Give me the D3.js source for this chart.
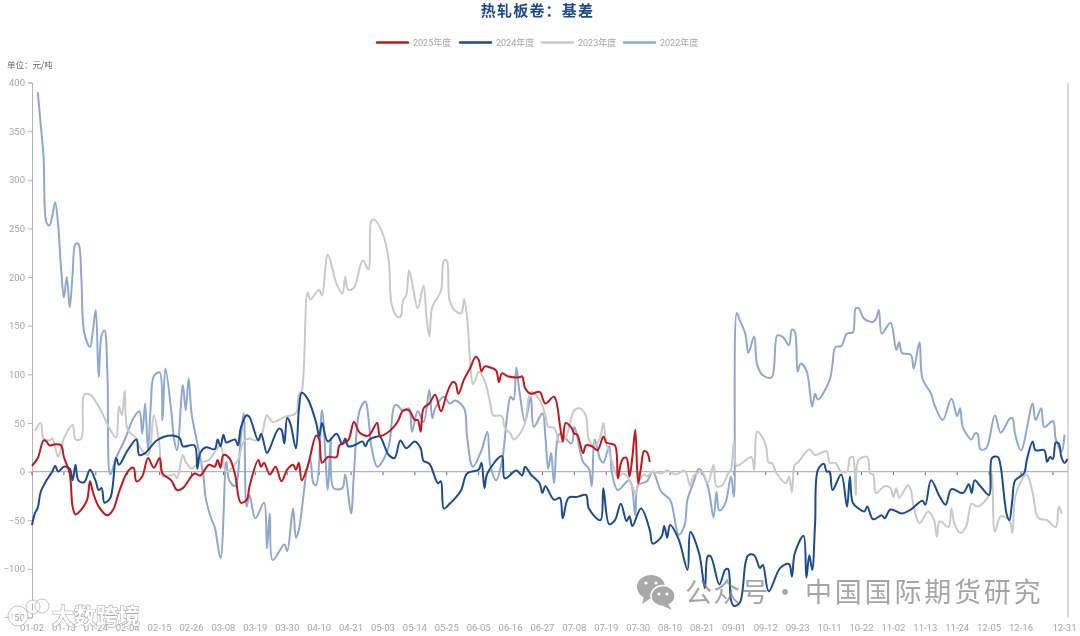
<!DOCTYPE html>
<html><head><meta charset="utf-8">
<script src="https://cdnjs.cloudflare.com/ajax/libs/d3/7.8.5/d3.min.js"></script>
<style>html,body{margin:0;padding:0;background:#fff;overflow:hidden}svg{display:block;filter:blur(0.4px)}</style>
</head><body><svg id="c" width="1080" height="636"></svg>
<script>
const title = "热轧板卷：基差";
const unitLabel = "单位：元/吨";
const yTicks = [400,350,300,250,200,150,100,50,0,-50,-100,-150];
const xTickLabels = ["01-02","01-13","01-24","02-04","02-15","02-26","03-08","03-19","03-30","04-10","04-21","05-03","05-14","05-25","06-05","06-16","06-27","07-08","07-19","07-30","08-10","08-21","09-01","09-12","09-23","10-11","10-22","11-02","11-13","11-24","12-05","12-16","12-31"];
const xTickIndex = [0,11,22,33,44,55,66,77,88,99,110,121,132,143,154,165,176,187,198,209,220,231,242,253,264,275,286,297,308,319,330,341,356];
const seriesNames = ["2025年度","2024年度","2023年度","2022年度"];
// [category index, value]
const s2025 = [[0,6],[2,14],[4,32],[5,31],[6,27],[8,28],[10,27],[11,15],[13,-2],[14,-36],[15,-44],[17,-39],[19,-29],[20,-10],[21,-21],[23,-36],[26,-45],[28,-39],[30,-21],[33,0],[35,4],[36,-10],[38,-5],[40,14],[42,4],[44,14],[45,-2],[48,-9],[50,-19],[52,-17],[56,-2],[58,-4],[61,7],[63,5],[64,12],[65,4],[66,17],[68,14],[70,-3],[72,-32],[74,-29],[75,-15],[78,12],[79,5],[80,9],[82,-3],[84,5],[86,-10],[88,2],[90,7],[91,2],[92,9],[93,-9],[95,5],[98,37],[99,33],[100,9],[102,15],[105,15],[106,27],[109,32],[111,51],[113,40],[116,37],[119,50],[120,37],[123,41],[126,51],[128,63],[130,63],[132,53],[133,53],[134,41],[135,65],[137,70],[139,79],[141,62],[143,80],[145,92],[146,91],[147,80],[149,95],[151,106],[153,118],[154,115],[155,103],[156,108],[158,107],[160,104],[161,92],[162,101],[164,98],[168,97],[169,98],[170,86],[172,80],[175,82],[177,70],[180,77],[182,48],[183,31],[184,50],[186,45],[187,39],[188,38],[190,19],[191,27],[193,26],[195,22],[197,36],[198,30],[199,29],[201,27],[202,-7],[203,8],[204,14],[205,14],[206,-5],[207,15],[208,43],[209,-12],[210,5],[211,21],[212,20],[213,10]];
const s2024 = [[0,-55],[1,-43],[2,-37],[3,-21],[5,-9],[7,0],[8,6],[9,0],[11,5],[13,3],[14,-9],[15,7],[16,-9],[18,-11],[20,2],[22,-10],[23,-19],[24,-17],[25,-32],[27,-27],[29,14],[30,7],[33,22],[36,33],[37,17],[39,19],[43,32],[48,37],[51,34],[52,26],[56,27],[57,3],[58,19],[60,25],[63,23],[64,33],[65,26],[66,38],[67,30],[70,33],[71,27],[72,45],[74,58],[75,56],[78,32],[79,39],[81,19],[82,24],[85,44],[86,43],[87,29],[88,55],[89,50],[91,24],[92,63],[93,81],[95,75],[98,50],[99,36],[100,50],[102,31],[105,39],[107,28],[108,34],[109,26],[111,27],[113,30],[114,31],[115,26],[116,32],[119,36],[120,36],[123,17],[125,14],[127,32],[129,24],[132,31],[134,24],[135,11],[137,8],[140,-12],[141,-10],[142,-38],[144,-33],[146,-27],[148,-19],[150,-2],[154,2],[155,9],[156,-17],[157,-2],[162,16],[163,-7],[167,1],[169,-4],[170,5],[172,-3],[175,-12],[176,-22],[177,-15],[180,-29],[182,-27],[183,-48],[185,-27],[188,-26],[191,-24],[192,-38],[196,-50],[197,-17],[199,-54],[201,-50],[203,-33],[205,-51],[206,-46],[207,-56],[210,-38],[213,-60],[214,-74],[217,-67],[218,-56],[219,-68],[220,-55],[223,-70],[226,-101],[227,-62],[230,-84],[232,-120],[233,-87],[234,-87],[237,-116],[239,-101],[240,-100],[241,-132],[242,-138],[244,-135],[246,-94],[247,-86],[249,-86],[251,-99],[252,-96],[254,-123],[258,-99],[261,-95],[262,-108],[263,-84],[266,-66],[267,-109],[268,-86],[269,-101],[270,-53],[271,2],[273,8],[274,0],[275,0],[276,-19],[279,-3],[281,-36],[282,-5],[283,-32],[285,-38],[287,-41],[288,-36],[290,-49],[293,-45],[294,-48],[296,-39],[300,-43],[303,-39],[307,-30],[308,-34],[310,-9],[313,-26],[315,-34],[317,-18],[321,-22],[323,-13],[324,-22],[325,-9],[327,-15],[330,-24],[331,14],[333,15],[334,5],[336,-43],[337,-50],[338,-29],[339,-9],[342,-2],[343,12],[345,31],[346,22],[349,22],[350,10],[351,15],[352,13],[353,30],[354,29],[355,14],[356,9],[357,13]];
const s2023 = [[1,42],[3,50],[4,34],[6,32],[7,34],[9,15],[10,24],[11,34],[14,48],[15,33],[17,34],[18,79],[20,79],[23,67],[27,43],[29,35],[30,67],[31,58],[32,83],[33,43],[36,34],[37,26],[40,17],[42,58],[44,26],[45,-5],[49,-3],[50,-7],[52,17],[53,10],[55,3],[57,8],[59,10],[61,12],[63,20],[65,27],[67,0],[71,12],[73,31],[75,34],[77,32],[79,36],[81,58],[83,51],[87,56],[91,60],[92,79],[93,83],[95,184],[96,177],[99,187],[100,181],[102,223],[105,193],[107,183],[108,200],[109,187],[111,189],[114,217],[116,208],[117,258],[118,259],[121,244],[123,217],[124,172],[126,159],[127,159],[128,176],[129,181],[130,207],[131,195],[133,168],[135,191],[136,159],[137,139],[138,169],[141,186],[142,217],[143,217],[144,176],[146,165],[148,163],[149,177],[150,159],[151,117],[152,90],[153,95],[154,103],[156,94],[158,70],[159,58],[162,57],[163,45],[165,39],[166,33],[168,38],[170,50],[172,82],[175,74],[177,58],[178,46],[180,45],[182,30],[184,35],[187,63],[189,65],[191,57],[192,33],[194,26],[196,36],[197,50],[198,29],[199,20],[200,10],[202,-5],[204,-2],[207,-15],[208,-24],[209,-12],[211,-3],[212,-5],[214,0],[217,-2],[219,1],[222,-3],[225,1],[227,-15],[228,-5],[231,0],[233,-12],[235,7],[236,-15],[238,-14],[240,-2],[241,2],[242,31],[243,6],[248,15],[249,2],[250,41],[251,39],[253,27],[254,9],[255,9],[257,-3],[260,-12],[261,-5],[262,-21],[263,7],[264,9],[268,23],[270,17],[274,21],[275,9],[277,9],[279,0],[281,0],[282,14],[283,15],[284,-24],[285,12],[288,15],[289,-2],[290,-3],[291,-22],[294,-15],[296,-17],[297,-26],[298,-17],[299,-27],[302,-14],[303,-19],[304,-36],[306,-53],[309,-41],[311,-50],[312,-67],[313,-51],[316,-57],[317,-38],[318,-53],[320,-63],[322,-57],[324,-33],[326,-36],[330,-24],[331,-2],[332,-62],[334,-46],[337,-50],[338,-63],[339,-26],[341,-10],[343,-3],[345,-22],[347,-48],[350,-50],[353,-57],[354,-36],[355,-43]];
const s2022 = [[2,390],[3,357],[4,323],[5,256],[6,253],[7,263],[8,277],[9,254],[10,210],[11,179],[12,200],[13,169],[14,203],[15,234],[16,234],[17,200],[18,143],[20,128],[21,145],[22,166],[23,97],[24,140],[25,145],[26,100],[27,-3],[29,14],[32,33],[35,55],[37,62],[38,39],[39,70],[40,22],[41,70],[42,98],[44,102],[45,53],[46,106],[48,63],[49,33],[50,22],[52,89],[53,63],[54,96],[55,60],[57,29],[59,-2],[60,-29],[62,-50],[63,-57],[65,-89],[67,10],[68,-9],[70,-15],[72,36],[73,60],[74,-36],[75,-24],[77,-48],[80,-32],[81,-79],[82,-43],[83,-91],[87,-75],[88,-82],[90,-38],[91,-68],[92,-60],[95,5],[96,12],[97,-12],[98,-14],[100,63],[102,-19],[103,34],[104,-17],[107,-17],[108,-3],[110,-43],[111,-2],[113,63],[115,72],[116,55],[117,26],[119,5],[120,7],[123,26],[125,68],[126,68],[128,62],[130,65],[131,41],[133,62],[135,51],[137,84],[138,55],[139,65],[142,77],[144,70],[146,73],[149,65],[150,36],[152,5],[155,22],[157,41],[158,7],[160,-9],[162,10],[164,62],[165,77],[166,74],[167,107],[168,84],[170,51],[172,77],[173,46],[176,60],[177,36],[178,3],[179,19],[180,-12],[182,39],[186,29],[187,46],[190,10],[192,3],[193,-15],[194,33],[196,12],[197,9],[199,26],[200,-2],[202,-19],[206,-9],[208,-45],[209,-14],[212,-10],[214,0],[217,-21],[220,-29],[223,-65],[225,-55],[226,-29],[228,-12],[230,3],[233,-15],[235,-47],[236,-21],[237,-40],[239,-33],[241,-5],[242,-26],[243,163],[244,156],[246,141],[247,122],[249,139],[250,110],[252,99],[255,97],[257,140],[259,138],[261,130],[262,146],[263,144],[264,103],[265,111],[267,104],[269,67],[270,80],[271,74],[275,94],[276,110],[277,128],[279,129],[281,142],[283,143],[284,168],[285,168],[287,157],[290,154],[291,157],[292,166],[293,142],[296,153],[298,125],[299,133],[300,122],[303,120],[304,106],[306,133],[307,96],[310,80],[311,70],[314,53],[317,75],[319,57],[320,65],[321,45],[324,33],[325,39],[326,39],[327,23],[329,24],[332,58],[334,40],[337,54],[338,55],[339,38],[341,22],[345,70],[346,53],[348,65],[349,46],[352,52],[353,33],[355,21],[356,38]];
const seriesData = [s2025,s2024,s2023,s2022];
const colors = ["#c4161f","#1b4b91","#c9c9c9","#8fa8cf"];
const axisGray = "#b4b4b4", textGray = "#a6a6a6";
const font = "Roboto, 'Liberation Sans', 'Noto Sans CJK SC', sans-serif";

const svg = d3.select("#c");
const x = d3.scaleLinear().domain([0,357.2]).range([32,1068]);
const y = d3.scaleLinear().domain([-150,400]).range([617.5,82.5]);

// title, unit
svg.append("text").attr("x",537.5).attr("y",16).attr("text-anchor","middle")
  .attr("font-family","'Noto Sans CJK SC',sans-serif").attr("font-weight",700).attr("font-size",15)
  .attr("letter-spacing",1.2).attr("fill","#1d4a8e").text(title);
svg.append("text").attr("x",7).attr("y",68).attr("font-family","'Noto Sans CJK SC',sans-serif")
  .attr("font-size",8.5).attr("fill","#666").text(unitLabel);

// legend
const legendX = d3.scaleOrdinal().domain(seriesNames).range([377,460,542,624]);
const lg = svg.append("g").selectAll("g").data(seriesNames).join("g")
  .attr("transform",d=>`translate(${legendX(d)},42.5)`);
lg.append("line").attr("x1",0).attr("x2",31).attr("stroke",(d,i)=>colors[i]).attr("stroke-width",2.4).attr("stroke-linecap","round");
lg.append("text").attr("x",36).attr("y",3.5).attr("font-family",font).attr("font-size",9).attr("fill",textGray).text(d=>d);

// axes
const gy = svg.append("g").attr("transform","translate(32,0)")
  .call(d3.axisLeft(y).tickValues(yTicks).tickSize(4).tickPadding(3).tickFormat(d3.format("d")));
gy.select(".domain").attr("stroke",axisGray).attr("stroke-width",1);
gy.selectAll(".tick line").attr("stroke",axisGray);
gy.selectAll("text").attr("font-family",font).attr("font-size",9.5).attr("fill",textGray);

svg.append("line").attr("x1",1068).attr("x2",1068).attr("y1",y(400)).attr("y2",y(-150)).attr("stroke",axisGray);

const tickMarks = xTickIndex.slice(0,-1).concat([352]);
svg.append("g").selectAll("line").data(tickMarks).join("line")
  .attr("x1",d=>x(d)).attr("x2",d=>x(d)).attr("y1",y(0)).attr("y2",y(0)+3.5)
  .attr("stroke","#666").attr("stroke-width",1);
svg.append("line").attr("x1",32).attr("x2",1068).attr("y1",y(0)).attr("y2",y(0)).attr("stroke",axisGray).attr("stroke-width",1.2);
svg.append("g").selectAll("text").data(xTickLabels).join("text")
  .attr("x",(d,i)=>x(xTickIndex[i])).attr("y",631).attr("text-anchor","middle")
  .attr("font-family",font).attr("font-size",9.5).attr("fill",textGray).text(d=>d);

// series, oldest drawn first
const line = d3.line().x(d=>x(d[0])).y(d=>y(d[1])).curve(d3.curveCatmullRom.alpha(0.5));
[3,2,1,0].forEach(k=>{
  svg.append("path").datum(seriesData[k]).attr("d",line).attr("fill","none")
    .attr("stroke",colors[k]).attr("stroke-width",2).attr("stroke-linejoin","round");
});

// watermarks
const wm = svg.append("g");
const wc = wm.append("g").attr("fill","#a8a8a8");
wc.append("ellipse").attr("cx",651).attr("cy",587).attr("rx",14).attr("ry",12);
wc.append("path").attr("d","M644 596 L642 604 L651 598Z");
wc.append("ellipse").attr("cx",663).attr("cy",596).attr("rx",12).attr("ry",10.5).attr("stroke","#fff").attr("stroke-width",1.5);
wc.append("path").attr("d","M668 604 L672 610 L663 606Z");
[[646,583],[656,583],[659,594],[667,594]].forEach(p=>wm.append("circle").attr("cx",p[0]).attr("cy",p[1]).attr("r",1.6).attr("fill","#fff"));
const wmFill = "rgba(130,130,130,.72)", cjk = "'Noto Sans CJK SC',sans-serif";
wm.append("text").attr("x",685).attr("y",602).attr("font-family",cjk).attr("font-size",27).attr("letter-spacing",1.3).attr("fill",wmFill).text("公众号");
wm.append("text").attr("x",785).attr("y",602).attr("text-anchor","middle").attr("font-family",cjk).attr("font-size",27).attr("fill",wmFill).text("·");
wm.append("text").attr("x",805).attr("y",602).attr("font-family",cjk).attr("font-size",27).attr("letter-spacing",2.8).attr("fill",wmFill).text("中国国际期货研究");
const bl = wm.append("g");
bl.append("text").attr("x",52).attr("y",624).attr("font-family",cjk)
  .attr("font-size",22).attr("font-weight",700).attr("fill","#fff").attr("stroke","#aaa").attr("stroke-width",1.2).attr("paint-order","stroke").text("大数跨境");
[[18,616,8],[33,607,5],[42,606,5]].forEach(c=>bl.append("circle").attr("cx",c[0]).attr("cy",c[1]).attr("r",c[2]).attr("fill","none").attr("stroke","#fff").attr("stroke-width",3));
[[18,616,10],[33,607,7],[42,606,7]].forEach(c=>bl.append("circle").attr("cx",c[0]).attr("cy",c[1]).attr("r",c[2]).attr("fill","none").attr("stroke","#aaa").attr("stroke-width",.7));
</script></body></html>
